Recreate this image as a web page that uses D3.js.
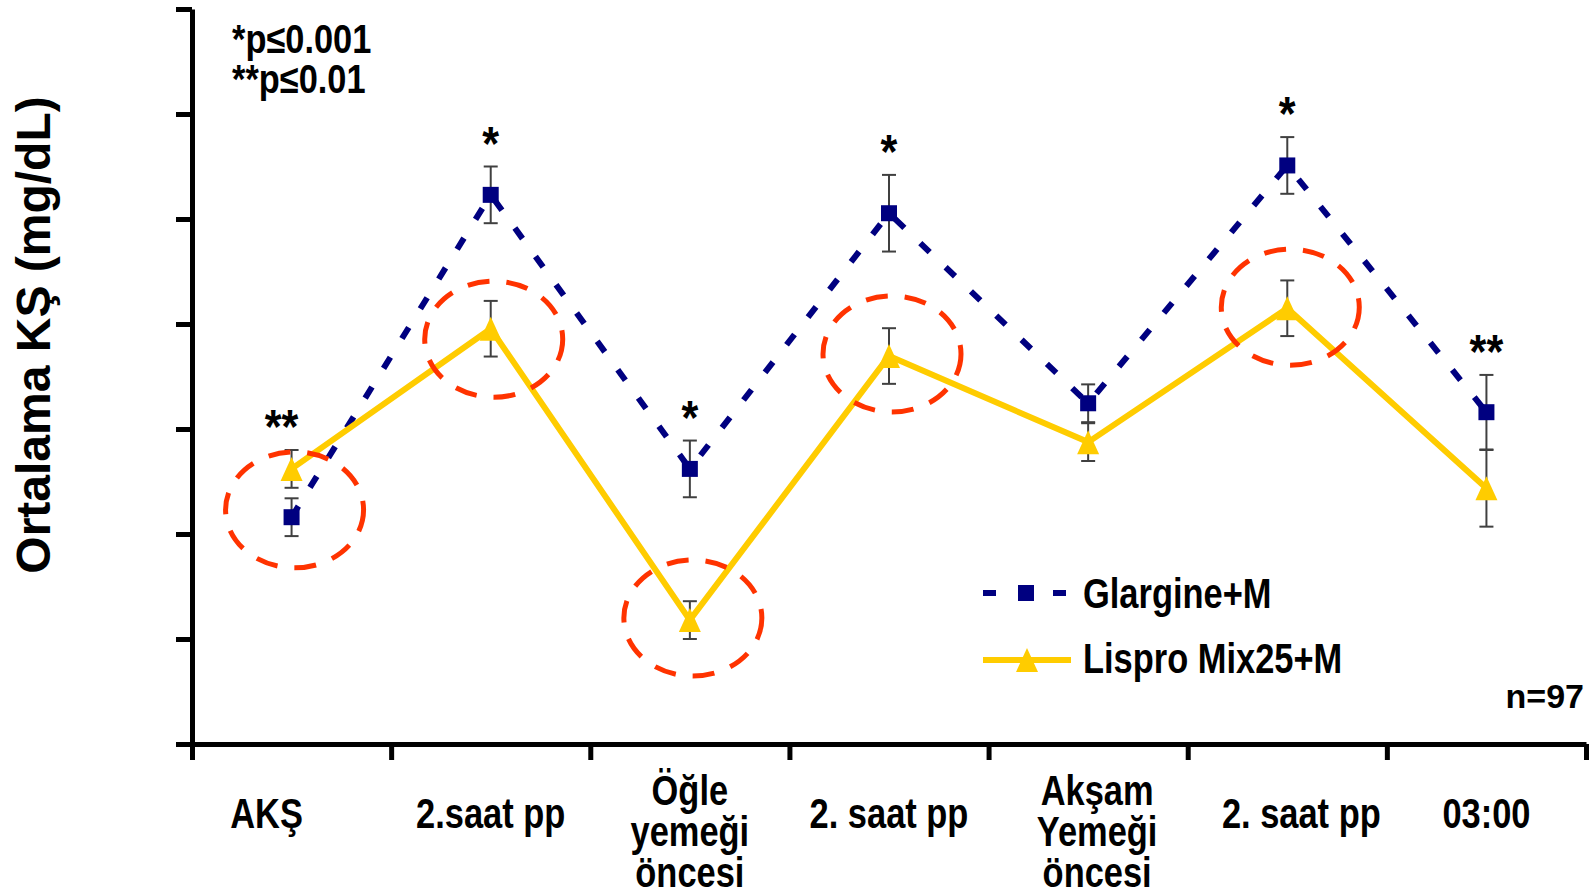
<!DOCTYPE html>
<html lang="tr">
<head>
<meta charset="utf-8">
<style>
    body { margin: 0; background: #fff; }
    svg text { font-family: "Liberation Sans", Arial, sans-serif; font-weight: bold; fill: #000; }
    .axis path, .axis line { stroke: #000; stroke-width: 5; }
    .err { stroke: #404040; stroke-width: 2; }
</style>
<script src="https://cdnjs.cloudflare.com/ajax/libs/d3/7.8.5/d3.min.js"></script>
</head>
<body>
<svg width="1594" height="895"></svg>
<script>

    // x categories (multi-line labels)
    var categories = [
        ["AKŞ"],
        ["2.saat pp"],
        ["Öğle", "yemeği", "öncesi"],
        ["2. saat pp"],
        ["Akşam", "Yemeği", "öncesi"],
        ["2. saat pp"],
        ["03:00"]
    ];

    // mean glucose (mg/dL) and error bars
    var glargine    = [123.2, 184.6, 132.4, 181.1, 144.9, 190.2, 143.2];
    var glargineErr = [3.6, 5.4, 5.4, 7.3, 3.6, 5.4, 7.1];
    var lispro      = [132.4, 159.1, 103.6, 153.9, 137.5, 163.0, 128.7];
    var lisproErr   = [3.6, 5.3, 3.6, 5.3, 3.6, 5.3, 7.3];

    var significance = ["**", "*", "*", "*", "", "*", "**"];

    // red dashed rings
    var highlightIdx = [0, 1, 2, 3, 5];
    var highlightVal = [124.6, 157.1, 104.0, 154.3, 163.2];

    var yTicks = [80, 100, 120, 140, 160, 180, 200, 220];

    var svg = d3.select("svg");

    var x = d3.scaleBand()
        .domain(d3.range(categories.length))
        .range([192, 1586])
        .padding(0);

    var xEdge = d3.scaleLinear()
        .domain([0, categories.length])
        .range([192, 1586]);

    var y = d3.scaleLinear()
        .domain([80, 220])
        .range([744, 9]);

    function cx(i) { return x(i) + x.bandwidth() / 2; }

    function txt(parent, px, py, str, size, anchor, sx) {
        return parent.append("text")
            .attr("transform", "translate(" + px + "," + py + ") scale(" + sx + ",1)")
            .attr("text-anchor", anchor)
            .style("font-size", size + "px")
            .text(str);
    }

    // axes
    svg.append("g")
        .attr("class", "axis")
        .attr("transform", "translate(192,0)")
        .call(d3.axisLeft(y).tickValues(yTicks).tickSize(16).tickSizeOuter(0).tickFormat(""));

    svg.append("g")
        .attr("class", "axis")
        .attr("transform", "translate(0,744)")
        .call(d3.axisBottom(xEdge).tickValues(d3.range(categories.length + 1)).tickSize(16).tickSizeOuter(0).tickFormat(""));

    // x labels
    var labelNudge = {0: -25, 4: 9, 5: 14};
    categories.forEach(function(lines, i) {
        var px = cx(i) + (labelNudge[i] || 0);
        var y0 = lines.length > 1 ? 805 : 828;
        var t = txt(svg, px, y0, null, 42, "middle", 0.82);
        lines.forEach(function(s, k) {
            t.append("tspan")
                .attr("x", 0)
                .attr("dy", k === 0 ? 0 : 41)
                .text(s);
        });
    });

    // y title
    svg.append("text")
        .attr("transform", "translate(50,335) rotate(-90)")
        .attr("text-anchor", "middle")
        .style("font-size", "48px")
        .text("Ortalama KŞ (mg/dL)");

    // lines
    var line = d3.line()
        .x(function(d, i) { return cx(i); })
        .y(function(d) { return y(d); });

    svg.append("path")
        .datum(glargine)
        .attr("d", line)
        .attr("fill", "none")
        .attr("stroke", "#000080")
        .attr("stroke-width", 6)
        .attr("stroke-dasharray", "13,22");

    svg.append("path")
        .datum(lispro)
        .attr("d", line)
        .attr("fill", "none")
        .attr("stroke", "#FFCC00")
        .attr("stroke-width", 6);

    // error bars
    function errorBars(vals, errs) {
        var g = svg.append("g").attr("class", "err");
        vals.forEach(function(v, i) {
            var top = y(v + errs[i]), bot = y(v - errs[i]);
            g.append("line").attr("x1", cx(i)).attr("x2", cx(i)).attr("y1", top).attr("y2", bot);
            g.append("line").attr("x1", cx(i) - 7).attr("x2", cx(i) + 7).attr("y1", top).attr("y2", top);
            g.append("line").attr("x1", cx(i) - 7).attr("x2", cx(i) + 7).attr("y1", bot).attr("y2", bot);
        });
    }
    errorBars(glargine, glargineErr);
    errorBars(lispro, lisproErr);

    // markers
    var tri = "M0,-12L11,12L-11,12Z";

    svg.selectAll(".sq")
        .data(glargine)
        .enter().append("rect")
        .attr("class", "sq")
        .attr("x", function(d, i) { return cx(i) - 8; })
        .attr("y", function(d) { return y(d) - 8; })
        .attr("width", 16)
        .attr("height", 16)
        .attr("fill", "#000080");

    svg.selectAll(".tri")
        .data(lispro)
        .enter().append("path")
        .attr("class", "tri")
        .attr("d", tri)
        .attr("transform", function(d, i) { return "translate(" + cx(i) + "," + y(d) + ")"; })
        .attr("fill", "#FFCC00");

    // rings
    svg.selectAll(".ring")
        .data(highlightIdx)
        .enter().append("ellipse")
        .attr("class", "ring")
        .attr("cx", function(d) { return cx(d) + 3; })
        .attr("cy", function(d, k) { return y(highlightVal[k]); })
        .attr("rx", 69)
        .attr("ry", 58)
        .attr("fill", "none")
        .attr("stroke", "#FF3300")
        .attr("stroke-width", 5)
        .attr("stroke-dasharray", "22,17");

    // significance stars
    significance.forEach(function(s, i) {
        if (!s) return;
        var top = Math.min(y(glargine[i] + glargineErr[i]), y(lispro[i] + lisproErr[i]));
        txt(svg, cx(i) + (s === "**" && i === 0 ? -10 : 0), top - 7, s, 48, "middle", 0.9);
    });

    // p notes
    txt(svg, 232, 53, "*p≤0.001", 40, "start", 0.86);
    txt(svg, 232, 93, "**p≤0.01", 40, "start", 0.86);

    // n
    txt(svg, 1584, 708, "n=97", 34, "end", 1);

    // legend
    var lg = svg.append("g");
    lg.append("line")
        .attr("x1", 983).attr("x2", 1067).attr("y1", 593).attr("y2", 593)
        .attr("stroke", "#000080").attr("stroke-width", 6)
        .attr("stroke-dasharray", "13,22");
    lg.append("rect")
        .attr("x", 1018).attr("y", 585).attr("width", 16).attr("height", 16)
        .attr("fill", "#000080");
    txt(lg, 1083, 608, "Glargine+M", 42, "start", 0.82);

    lg.append("line")
        .attr("x1", 983).attr("x2", 1071).attr("y1", 660).attr("y2", 660)
        .attr("stroke", "#FFCC00").attr("stroke-width", 6);
    lg.append("path")
        .attr("d", tri)
        .attr("transform", "translate(1027,660)")
        .attr("fill", "#FFCC00");
    txt(lg, 1083, 673, "Lispro Mix25+M", 42, "start", 0.82);

</script>
</body>
</html>
